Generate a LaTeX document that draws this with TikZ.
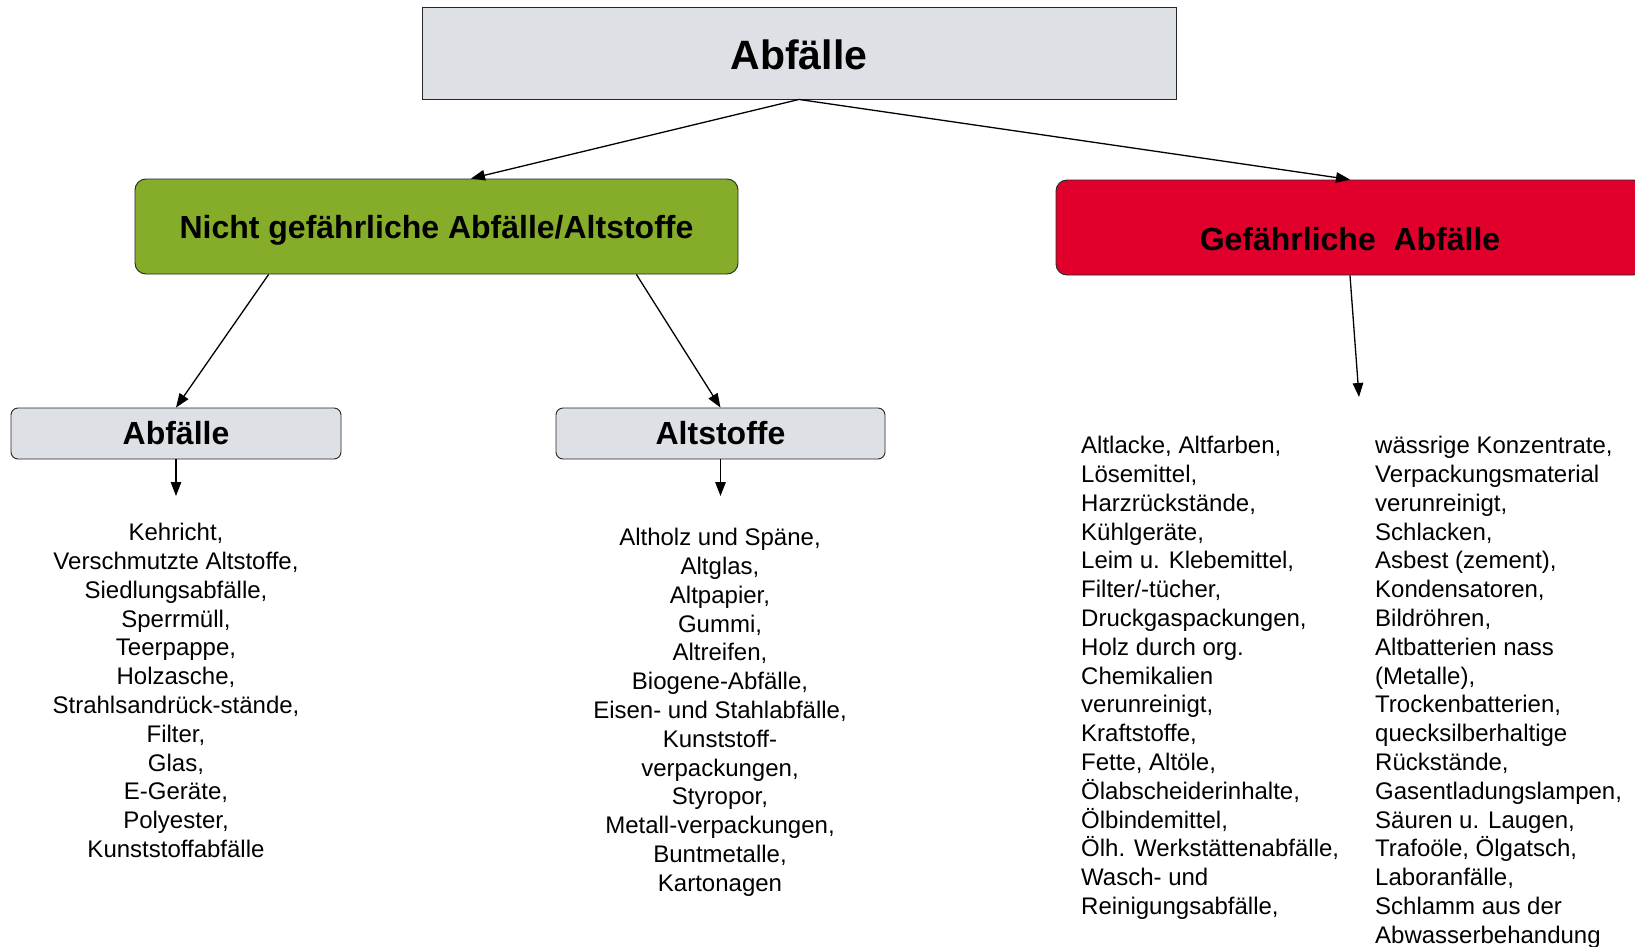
\documentclass[tikz,border=0pt]{standalone}
\usepackage{fontspec}
\setmainfont{Liberation Sans}
\usetikzlibrary{arrows.meta,calc}
\definecolor{boxgray}{HTML}{DDE0E5}
\definecolor{boxgreen}{HTML}{86AD2A}
\definecolor{boxred}{HTML}{E1002B}
\tikzset{
  box/.style={draw=black!85, line width=0.9pt, inner sep=0pt},
  conn/.style={line width=1.3pt, -{Triangle[length=14pt,width=10.5pt]}},
  listtext/.style={inner sep=0pt, font=\fontsize{24}{28.8}\selectfont},
  headbig/.style={font=\fontsize{41}{48}\selectfont\bfseries},
  headmid/.style={font=\fontsize{32}{38}\selectfont\bfseries},
}
\begin{document}
\begin{tikzpicture}[x=1pt,y=-1pt]
\useasboundingbox (0,0) rectangle (1635,947);
\fill[white] (0,0) rectangle (1635,947);
% top
\node[box, fill=boxgray, minimum width=754pt, minimum height=92pt, headbig, text height=34pt, text depth=0pt] (top) at (799,53) {Abfälle};
% second level
\node[box, fill=boxgreen, rounded corners=11pt, minimum width=603pt, minimum height=95pt, headmid, text depth=0pt] (green) at (436.5,226.5) {Nicht gefährliche Abfälle/Altstoffe};
\node[box, fill=boxred, rounded corners=11pt, minimum width=588pt, minimum height=95pt] (red) at (1350,227.5) {};
\node[headmid, inner sep=0pt] (redtext) at (1350,239) {Gefährliche\ \ Abfälle};
% third level
\node[box, fill=boxgray, rounded corners=7pt, minimum width=330pt, minimum height=51pt, headmid] (abf) at (176,433.5) {Abfälle};
\node[box, fill=boxgray, rounded corners=7pt, minimum width=329pt, minimum height=51pt, headmid] (alt) at (720.5,433.5) {Altstoffe};
% connector points
\coordinate (g1) at ($(green.north west)!0.557!(green.north east)$);
\coordinate (s1) at ($(green.south west)!0.222!(green.south east)$);
\coordinate (s2) at ($(green.south west)!0.831!(green.south east)$);
\coordinate (abfend) at (176,496);
\coordinate (altend) at (720.5,496);
\coordinate (redend) at (1359,397);
% connectors
\draw[conn] (top.south) -- (g1);
\draw[conn] (top.south) -- (red.north);
\draw[conn] (s1) -- (abf.north);
\draw[conn] (s2) -- (alt.north);
\draw[conn] (abf.south) -- (abfend);
\draw[conn] (alt.south) -- (altend);
\draw[conn] (red.south) -- (redend);
% lists
\node[listtext, anchor=north, align=center] (abflist) at (176,523) {Kehricht,\\Verschmutzte Altstoffe,\\Siedlungsabfälle,\\Sperrmüll,\\Teerpappe,\\Holzasche,\\Strahlsandrück-stände,\\Filter,\\Glas,\\E-Geräte,\\Polyester,\\Kunststoffabfälle};
\node[listtext, anchor=north, align=center] (altlist) at (720,528) {Altholz und Späne,\\Altglas,\\Altpapier,\\Gummi,\\Altreifen,\\Biogene-Abfälle,\\Eisen- und Stahlabfälle,\\Kunststoff-\\verpackungen,\\Styropor,\\Metall-verpackungen,\\Buntmetalle,\\Kartonagen};
\node[listtext, anchor=north west, align=left] (redlist1) at (1081,436) {Altlacke, Altfarben,\\Lösemittel,\\Harzrückstände,\\Kühlgeräte,\\Leim u. Klebemittel,\\Filter/-tücher,\\Druckgaspackungen,\\Holz durch org.\\Chemikalien\\verunreinigt,\\Kraftstoffe,\\Fette, Altöle,\\Ölabscheiderinhalte,\\Ölbindemittel,\\Ölh. Werkstättenabfälle,\\Wasch- und\\Reinigungsabfälle,};
\node[listtext, anchor=north west, align=left] (redlist2) at (1375,436) {wässrige Konzentrate,\\Verpackungsmaterial\\verunreinigt,\\Schlacken,\\Asbest (zement),\\Kondensatoren,\\Bildröhren,\\Altbatterien nass\\(Metalle),\\Trockenbatterien,\\quecksilberhaltige\\Rückstände,\\Gasentladungslampen,\\Säuren u. Laugen,\\Trafoöle, Ölgatsch,\\Laboranfälle,\\Schlamm aus der\\Abwasserbehandung};
\end{tikzpicture}
\end{document}
